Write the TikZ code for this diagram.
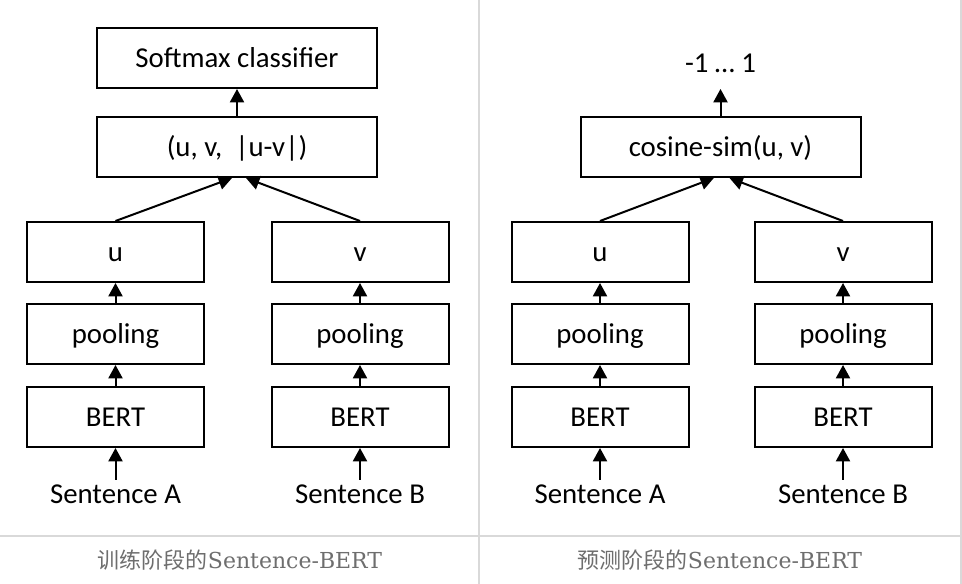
\documentclass[tikz,border=0pt]{standalone}
\usepackage{fontspec}
\setmainfont{Carlito}
\newfontfamily\cjkfont{Noto Sans CJK SC}
\newfontfamily\capserif{DejaVu Serif}
\usetikzlibrary{arrows.meta}
\definecolor{gridgray}{HTML}{D9D9D9}
\definecolor{capgray}{HTML}{6E6E6E}
\tikzset{
  box/.style={draw=black, line width=1.5pt, inner sep=0pt, minimum height=45pt,
    font=\fontsize{21.6pt}{24pt}\selectfont, text height=13.8pt, text depth=0pt},
  colbox/.style={box, minimum width=132.75pt},
  topbox/.style={box, minimum width=210pt},
  lbl/.style={inner sep=0pt, font=\fontsize{21.6pt}{24pt}\selectfont, text height=13.8pt, text depth=0pt},
  sent/.style={lbl, inner ysep=3.75pt},
  arr/.style={line width=1.5pt, -{Triangle[width=10.5pt,length=10pt]}},
  gridline/.style={draw=gridgray, line width=1.5pt},
  captext/.style={inner sep=0pt, text=capgray, font=\fontsize{16.5pt}{20pt}\selectfont}
}
\begin{document}
\begin{tikzpicture}[x=0.75pt,y=-0.75pt]
\useasboundingbox (0,0) rectangle (962,584);
\fill[white] (0,0) rectangle (962,584);
% table grid
\draw[gridline] (479,0) -- (479,584);
\draw[gridline] (961,0) -- (961,584);
\draw[gridline] (0,535.5) -- (961,535.5);
% ---------------- left panel ----------------
\node[topbox] (soft) at (237,58) {Softmax classifier};
\node[topbox] (mid) at (237,147) {(u, v, \ |u-v|)};
\node[colbox] (uA) at (115.5,252) {u};
\node[colbox] (pA) at (115.5,334) {pooling};
\node[colbox] (bA) at (115.5,417) {BERT};
\node[sent] (sA) at (115.5,494) {Sentence A};
\node[colbox] (vB) at (360,252) {v};
\node[colbox] (pB) at (360,334) {pooling};
\node[colbox] (bB) at (360,417) {BERT};
\node[sent] (sB) at (360,494) {Sentence B};
\draw[arr] (mid.north) -- (soft.south);
\draw[arr] (uA.north) -- ([xshift=-3.75pt]mid.south);
\draw[arr] (vB.north) -- ([xshift=6.75pt]mid.south);
\draw[arr] (pA.north) -- (uA.south);
\draw[arr] (bA.north) -- (pA.south);
\draw[arr] (sA.north) -- (bA.south);
\draw[arr] (pB.north) -- (vB.south);
\draw[arr] (bB.north) -- (pB.south);
\draw[arr] (sB.north) -- (bB.south);
% ---------------- right panel ----------------
\node[lbl] (res) at (720.5,63.5) {-1 … 1};
\node[topbox] (cos) at (720.5,147) {cosine-sim(u, v)};
\node[colbox] (uR) at (600,252) {u};
\node[colbox] (pR) at (600,334) {pooling};
\node[colbox] (bR) at (600,417) {BERT};
\node[sent] (sR) at (600,494) {Sentence A};
\node[colbox] (vR) at (843,252) {v};
\node[colbox] (pR2) at (843,334) {pooling};
\node[colbox] (bR2) at (843,417) {BERT};
\node[sent] (sR2) at (843,494) {Sentence B};
\draw[arr] (cos.north) -- ([yshift=-12pt]res.south);
\draw[arr] (uR.north) -- ([xshift=-5pt]cos.south);
\draw[arr] (vR.north) -- ([xshift=6.75pt]cos.south);
\draw[arr] (pR.north) -- (uR.south);
\draw[arr] (bR.north) -- (pR.south);
\draw[arr] (sR.north) -- (bR.south);
\draw[arr] (pR2.north) -- (vR.south);
\draw[arr] (bR2.north) -- (pR2.south);
\draw[arr] (sR2.north) -- (bR2.south);
% captions
\node[captext] (capL) at (240,560) {{\cjkfont 训练阶段的}{\capserif Sentence-BERT}};
\node[captext] (capR) at (720,560) {{\cjkfont 预测阶段的}{\capserif Sentence-BERT}};
\end{tikzpicture}
\end{document}
